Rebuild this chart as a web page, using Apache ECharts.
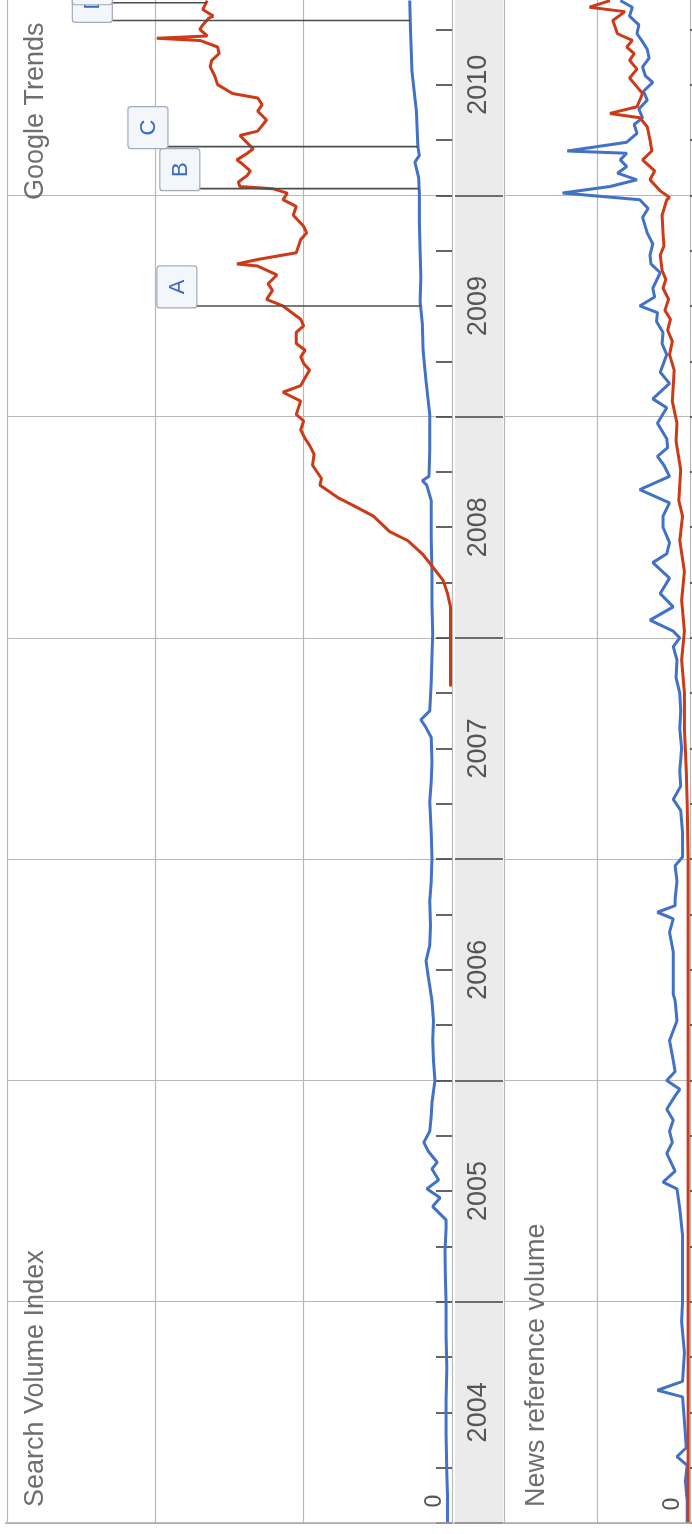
<!DOCTYPE html>
<html><head><meta charset="utf-8">
<script src="https://cdn.jsdelivr.net/npm/echarts@6/dist/echarts.min.js"></script>
<style>html,body{margin:0;padding:0;background:#fff;overflow:hidden}#c{position:absolute;left:0;top:-26px;width:692px;height:1560px}</style>
</head><body><div id="c"></div>
<script>
// ---- data (year, value) ----
const years = [2004, 2005, 2006, 2007, 2008, 2009, 2010];
const zeroLabel = '0';
const searchBlue = [[2004.00,0.03],[2004.12,0.03],[2004.23,0.035],[2004.40,0.04],[2004.55,0.04],[2004.70,0.035],[2004.85,0.04],[2005.00,0.04],[2005.12,0.045],[2005.23,0.047],[2005.33,0.04],[2005.37,0.04],[2005.43,0.13],[2005.47,0.08],[2005.51,0.17],[2005.55,0.09],[2005.60,0.135],[2005.63,0.10],[2005.68,0.16],[2005.72,0.19],[2005.77,0.15],[2005.84,0.14],[2005.90,0.135],[2006.00,0.115],[2006.09,0.125],[2006.18,0.13],[2006.27,0.125],[2006.36,0.135],[2006.47,0.16],[2006.54,0.175],[2006.61,0.15],[2006.70,0.145],[2006.81,0.15],[2006.90,0.14],[2007.01,0.135],[2007.12,0.14],[2007.26,0.15],[2007.35,0.14],[2007.44,0.135],[2007.55,0.14],[2007.60,0.18],[2007.63,0.21],[2007.67,0.15],[2007.80,0.14],[2007.92,0.135],[2008.02,0.13],[2008.15,0.135],[2008.29,0.135],[2008.45,0.14],[2008.62,0.14],[2008.69,0.17],[2008.71,0.20],[2008.73,0.155],[2008.85,0.15],[2009.01,0.15],[2009.16,0.175],[2009.30,0.195],[2009.42,0.20],[2009.52,0.215],[2009.63,0.21],[2009.75,0.215],[2009.88,0.22],[2010.01,0.22],[2010.08,0.225],[2010.15,0.25],[2010.18,0.22],[2010.22,0.23],[2010.30,0.235],[2010.38,0.24],[2010.47,0.255],[2010.56,0.27],[2010.66,0.275],[2010.75,0.28],[2010.88,0.285]];
const searchRed = [[2007.78,0.01],[2007.90,0.01],[2008.00,0.01],[2008.14,0.01],[2008.20,0.03],[2008.26,0.06],[2008.32,0.13],[2008.38,0.20],[2008.44,0.30],[2008.48,0.42],[2008.55,0.53],[2008.60,0.67],[2008.63,0.76],[2008.69,0.89],[2008.72,0.88],[2008.78,0.94],[2008.83,0.93],[2008.87,0.96],[2008.90,0.99],[2008.94,1.02],[2008.98,1.00],[2009.01,1.05],[2009.07,1.02],[2009.11,1.14],[2009.14,1.02],[2009.21,0.96],[2009.24,1.00],[2009.27,1.02],[2009.30,0.99],[2009.33,1.05],[2009.38,1.05],[2009.41,1.00],[2009.44,1.02],[2009.50,1.14],[2009.53,1.25],[2009.57,1.21],[2009.60,1.24],[2009.64,1.18],[2009.68,1.31],[2009.69,1.45],[2009.71,1.31],[2009.74,1.05],[2009.80,1.02],[2009.83,0.98],[2009.86,1.00],[2009.91,1.07],[2009.95,1.05],[2009.98,1.14],[2010.01,1.11],[2010.03,1.21],[2010.04,1.43],[2010.06,1.44],[2010.09,1.38],[2010.11,1.36],[2010.14,1.41],[2010.16,1.45],[2010.19,1.38],[2010.21,1.34],[2010.25,1.40],[2010.27,1.43],[2010.29,1.31],[2010.34,1.25],[2010.38,1.31],[2010.41,1.28],[2010.44,1.31],[2010.46,1.48],[2010.50,1.58],[2010.54,1.60],[2010.58,1.63],[2010.61,1.62],[2010.64,1.57],[2010.67,1.58],[2010.70,1.70],[2010.71,1.99],[2010.72,1.65],[2010.75,1.70],[2010.77,1.68],[2010.80,1.64],[2010.81,1.61],[2010.84,1.68],[2010.88,1.65]];
const newsBlue = [[2004.00,0.03],[2004.10,0.03],[2004.19,0.05],[2004.26,0.03],[2004.30,0.14],[2004.34,0.04],[2004.46,0.06],[2004.57,0.08],[2004.60,0.35],[2004.64,0.08],[2004.77,0.06],[2004.91,0.09],[2005.00,0.08],[2005.09,0.08],[2005.21,0.08],[2005.30,0.08],[2005.42,0.11],[2005.51,0.14],[2005.54,0.29],[2005.59,0.16],[2005.67,0.25],[2005.72,0.19],[2005.77,0.22],[2005.82,0.18],[2005.87,0.25],[2005.93,0.16],[2005.96,0.11],[2006.00,0.25],[2006.04,0.16],[2006.09,0.18],[2006.18,0.22],[2006.27,0.14],[2006.36,0.16],[2006.39,0.18],[2006.48,0.18],[2006.58,0.18],[2006.67,0.22],[2006.73,0.18],[2006.76,0.35],[2006.79,0.16],[2006.82,0.16],[2006.90,0.14],[2006.97,0.16],[2007.01,0.08],[2007.12,0.08],[2007.22,0.10],[2007.27,0.18],[2007.33,0.10],[2007.40,0.11],[2007.50,0.09],[2007.59,0.11],[2007.67,0.10],[2007.75,0.11],[2007.82,0.15],[2007.90,0.14],[2007.96,0.18],[2008.00,0.11],[2008.03,0.18],[2008.08,0.43],[2008.14,0.18],[2008.20,0.32],[2008.27,0.22],[2008.34,0.40],[2008.38,0.25],[2008.43,0.22],[2008.50,0.29],[2008.55,0.29],[2008.61,0.22],[2008.67,0.54],[2008.73,0.22],[2008.78,0.28],[2008.82,0.35],[2008.86,0.24],[2008.90,0.25],[2008.97,0.35],[2009.04,0.25],[2009.08,0.40],[2009.15,0.22],[2009.20,0.32],[2009.28,0.25],[2009.33,0.30],[2009.38,0.29],[2009.43,0.36],[2009.47,0.35],[2009.50,0.54],[2009.54,0.38],[2009.58,0.40],[2009.65,0.32],[2009.69,0.42],[2009.73,0.43],[2009.78,0.40],[2009.83,0.46],[2009.90,0.51],[2009.94,0.45],[2009.98,0.54],[2010.01,1.37],[2010.04,0.86],[2010.07,0.57],[2010.10,0.78],[2010.13,0.68],[2010.16,0.75],[2010.19,0.68],[2010.20,1.32],[2010.24,0.68],[2010.28,0.57],[2010.32,0.60],[2010.35,0.51],[2010.39,0.55],[2010.43,0.46],[2010.47,0.50],[2010.51,0.40],[2010.54,0.48],[2010.58,0.51],[2010.62,0.44],[2010.66,0.46],[2010.70,0.52],[2010.73,0.57],[2010.77,0.55],[2010.81,0.65],[2010.85,0.62],[2010.88,0.75]];
const newsRed = [[2004.00,0.02],[2004.50,0.02],[2005.00,0.02],[2005.50,0.02],[2006.00,0.02],[2006.50,0.02],[2007.00,0.02],[2007.25,0.03],[2007.40,0.04],[2007.59,0.06],[2007.75,0.06],[2007.90,0.09],[2008.03,0.06],[2008.17,0.09],[2008.30,0.06],[2008.44,0.11],[2008.55,0.08],[2008.62,0.12],[2008.76,0.10],[2008.89,0.15],[2008.97,0.14],[2009.07,0.19],[2009.21,0.17],[2009.28,0.22],[2009.34,0.19],[2009.39,0.24],[2009.44,0.21],[2009.48,0.27],[2009.53,0.23],[2009.58,0.29],[2009.62,0.26],[2009.66,0.30],[2009.73,0.32],[2009.77,0.28],[2009.83,0.29],[2009.91,0.30],[2009.98,0.25],[2009.99,0.22],[2010.02,0.32],[2010.07,0.43],[2010.11,0.38],[2010.16,0.51],[2010.20,0.41],[2010.25,0.43],[2010.31,0.46],[2010.35,0.54],[2010.37,0.86],[2010.40,0.57],[2010.46,0.51],[2010.50,0.59],[2010.53,0.65],[2010.57,0.57],[2010.61,0.65],[2010.64,0.60],[2010.67,0.68],[2010.70,0.62],[2010.73,0.78],[2010.79,0.83],[2010.83,0.70],[2010.85,1.08],[2010.88,0.86]];
const annLetters = ['A', 'B', 'C', 'D', 'E'];
const annDates = [2009.50, 2010.03, 2010.22, 2010.79, 2010.87];
const annTarget = ['blue', 'blue', 'blue', 'blue', 'red'];

// ---- layout / style ----
const annBoxRight = [1.72, 1.70, 1.915, 2.29, 2.29];
const BLUE = '#4272c8', RED = '#cc3a17';
const FONT = '"Liberation Sans", Arial, sans-serif';
const OFF = 26; // chart canvas starts 26px above the page
const GRID_TOP = 0, GRID_BOTTOM = 11;

function interp(series, t) {
  for (let i = 1; i < series.length; i++) {
    if (series[i][0] >= t) {
      const a = series[i - 1], b = series[i];
      const f = (t - a[0]) / (b[0] - a[0]);
      return a[1] + f * (b[1] - a[1]);
    }
  }
  return series[series.length - 1][1];
}
const annData = annDates.map((t, i) => [t, annBoxRight[i], interp(annTarget[i] === 'red' ? searchRed : searchBlue, t)]);

const timeAxisBase = { type: 'value', min: 2004, max: 2011, interval: 1, axisLabel: { show: false }, axisLine: { show: false } };
const gridLine = { show: true, lineStyle: { color: '#b8b8b8', width: 1.2 } };

const chart = echarts.init(document.getElementById('c'), null, { renderer: 'canvas' });
chart.setOption({
  animation: false,
  backgroundColor: '#fff',
  grid: [
    { left: 7, width: 445, top: GRID_TOP, bottom: GRID_BOTTOM },
    { left: 455, width: 48, top: GRID_TOP, bottom: GRID_BOTTOM, show: true, backgroundColor: '#ebebeb', borderWidth: 0 },
    { left: 504, width: 186, top: GRID_TOP, bottom: GRID_BOTTOM }
  ],
  xAxis: [
    { gridIndex: 0, type: 'value', min: 0, max: 3, interval: 1, inverse: true, axisLabel: { show: false }, axisTick: { show: false }, axisLine: { show: false }, splitLine: gridLine },
    { gridIndex: 1, type: 'value', min: 0, max: 1, show: false },
    { gridIndex: 2, type: 'value', min: 0, max: 2, interval: 1, inverse: true, axisLabel: { show: false }, axisTick: { show: false }, axisLine: { show: false }, splitLine: gridLine }
  ],
  yAxis: [
    Object.assign({}, timeAxisBase, { gridIndex: 0, position: 'right',
      axisTick: { show: true, inside: true, length: 16, lineStyle: { color: '#333', width: 1.5 } },
      minorTick: { show: true, splitNumber: 4, length: 16, lineStyle: { color: '#333', width: 1.5 } },
      splitLine: gridLine }),
    Object.assign({}, timeAxisBase, { gridIndex: 1, axisTick: { show: false },
      splitLine: { show: true, lineStyle: { color: '#444', width: 1.5 } } }),
    Object.assign({}, timeAxisBase, { gridIndex: 2, position: 'left',
      axisTick: { show: true, inside: true, length: 11, lineStyle: { color: '#333', width: 1.5 } },
      minorTick: { show: true, splitNumber: 4, length: 11, lineStyle: { color: '#333', width: 1.5 } },
      splitLine: gridLine })
  ],
  series: [
    { type: 'line', name: 'search-blue', xAxisIndex: 0, yAxisIndex: 0, data: searchBlue, encode: { x: 1, y: 0 }, showSymbol: false, symbol: 'none', lineStyle: { color: BLUE, width: 3 }, z: 3 },
    { type: 'line', name: 'search-red', xAxisIndex: 0, yAxisIndex: 0, data: searchRed, encode: { x: 1, y: 0 }, showSymbol: false, symbol: 'none', lineStyle: { color: RED, width: 3 }, z: 4 },
    { type: 'line', name: 'news-blue', xAxisIndex: 2, yAxisIndex: 2, data: newsBlue, encode: { x: 1, y: 0 }, showSymbol: false, symbol: 'none', lineStyle: { color: BLUE, width: 3 }, z: 3 },
    { type: 'line', name: 'news-red', xAxisIndex: 2, yAxisIndex: 2, data: newsRed, encode: { x: 1, y: 0 }, showSymbol: false, symbol: 'none', lineStyle: { color: RED, width: 3 }, z: 4 },
    { type: 'custom', name: 'years', xAxisIndex: 1, yAxisIndex: 1, data: years.map(y => [y + 0.5, 0.5, y]), encode: { x: 1, y: 0 }, z: 5,
      renderItem: (params, api) => {
        const p = api.coord([api.value(1), api.value(0)]);
        return { type: 'text', x: p[0], y: p[1], rotation: Math.PI / 2,
          style: { text: String(api.value(2)), font: '27px ' + FONT, fill: '#555', align: 'center', verticalAlign: 'middle' } };
      } },
    { type: 'custom', name: 'annotations', xAxisIndex: 0, yAxisIndex: 0, data: annData, encode: { x: [1, 2], y: 0 }, z: 6, clip: false,
      renderItem: (params, api) => {
        const t = api.value(0);
        const pe = api.coord([api.value(2), t]);
        const pb = api.coord([api.value(1), t]);
        const y = pe[1];
        return { type: 'group', children: [
          { type: 'line', shape: { x1: pb[0], y1: y, x2: pe[0], y2: y }, style: { stroke: '#4d4d4d', lineWidth: 1.6 } },
          { type: 'rect', shape: { x: pb[0] - 40, y: y - 40, width: 40, height: 42, r: 3 }, style: { fill: '#f3f6fb', stroke: '#a3abb6', lineWidth: 1.2 } },
          { type: 'text', x: pb[0] - 19, y: y - 19, rotation: Math.PI / 2,
            style: { text: annLetters[params.dataIndex], font: '22px ' + FONT, fill: '#3d68c2', align: 'center', verticalAlign: 'middle' } }
        ] };
      } }
  ],
  graphic: [
    { type: 'line', shape: { x1: 5, y1: 1523 + OFF, x2: 692, y2: 1523 + OFF }, style: { stroke: '#a8a8a8', lineWidth: 1.5 }, z: 10 },
    { type: 'text', x: 36, y: 1507 + OFF, rotation: Math.PI / 2, style: { text: 'Search Volume Index', font: '27px ' + FONT, fill: '#6f6f6f', align: 'left', verticalAlign: 'middle' }, z: 10 },
    { type: 'text', x: 36, y: 200 + OFF, rotation: Math.PI / 2, style: { text: 'Google Trends', font: '27px ' + FONT, fill: '#6f6f6f', align: 'left', verticalAlign: 'middle' }, z: 10 },
    { type: 'text', x: 537, y: 1507 + OFF, rotation: Math.PI / 2, style: { text: 'News reference volume', font: '27px ' + FONT, fill: '#6f6f6f', align: 'left', verticalAlign: 'middle' }, z: 10 },
    { type: 'text', x: 435, y: 1501 + OFF, rotation: Math.PI / 2, style: { text: zeroLabel, font: '23px ' + FONT, fill: '#555', align: 'center', verticalAlign: 'middle' }, z: 10 },
    { type: 'text', x: 673, y: 1504 + OFF, rotation: Math.PI / 2, style: { text: zeroLabel, font: '23px ' + FONT, fill: '#555', align: 'center', verticalAlign: 'middle' }, z: 10 }
  ]
});
</script>
</body></html>
